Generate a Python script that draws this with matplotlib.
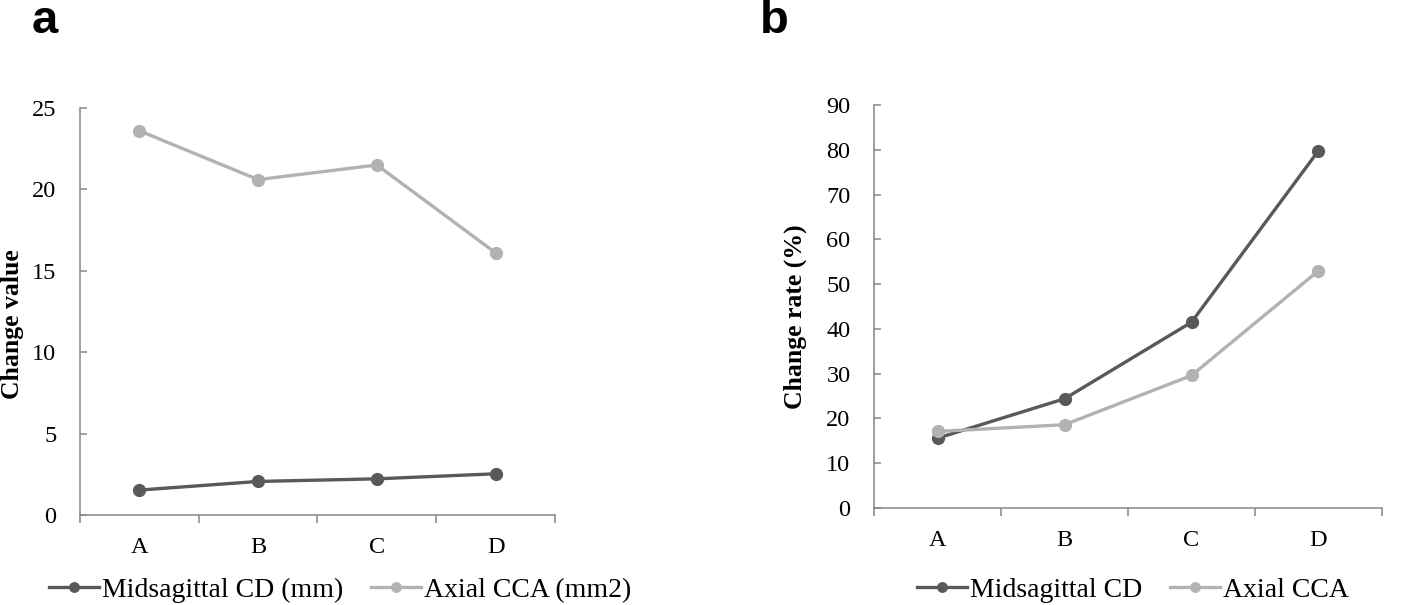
import numpy as np
import matplotlib
matplotlib.use("Agg")
import matplotlib.pyplot as plt

plt.rcParams['font.family'] = ['Liberation Serif', 'DejaVu Serif']

categories = ['A', 'B', 'C', 'D']

# panel a: change value
cd_value = [1.53, 2.06, 2.22, 2.53]
cca_value = [23.6, 20.6, 21.5, 16.1]

# panel b: change rate (%)
cd_rate = [15.6, 24.4, 41.5, 79.8]
cca_rate = [17.1, 18.6, 29.6, 53.0]

dark = '#595959'
light = '#b2b2b2'
axis_col = '#868686'

fig = plt.figure(figsize=(14.18, 6.05), dpi=100)
ax1 = fig.add_axes([0.0564, 0.1488, 0.335, 0.6727])
ax2 = fig.add_axes([0.6164, 0.1603, 0.3582, 0.6661])


def style(ax, ymax, ystep, ylabel, label_x, label_y):
    x = np.arange(1, len(categories) + 1)
    ax.set_xlim(0.5, len(categories) + 0.5)
    ax.set_ylim(0, ymax)
    ax.set_xticks(x)
    ax.set_xticklabels(categories, fontsize=17.5)
    ax.set_xticks(np.arange(0.5, len(categories) + 1, 1), minor=True)
    ax.tick_params(axis='x', which='major', length=0, pad=16)
    ax.tick_params(axis='x', which='minor', length=6, width=1.1,
                   color=axis_col, direction='out')
    ax.set_yticks(np.arange(0, ymax + 0.1, ystep))
    ax.tick_params(axis='y', length=5, width=1.1, color=axis_col,
                   direction='in', pad=17, labelsize=17.5)
    for s in ['top', 'right']:
        ax.spines[s].set_visible(False)
    for s in ['left', 'bottom']:
        ax.spines[s].set_color(axis_col)
        ax.spines[s].set_linewidth(1.1)
    ax.set_ylabel(ylabel, fontsize=18.5, fontweight='bold')
    ax.yaxis.set_label_coords(label_x, label_y)


x = np.arange(1, len(categories) + 1)

ax1.plot(x, cd_value, color=dark, lw=2.4, marker='o', ms=8.5,
         label='Midsagittal CD (mm)', clip_on=False)
ax1.plot(x, cca_value, color=light, lw=2.4, marker='o', ms=8.5,
         label='Axial CCA (mm2)', clip_on=False)
style(ax1, 25, 5, 'Change value', -0.118, 0.469)

ax2.plot(x, cd_rate, color=dark, lw=2.4, marker='o', ms=8.5,
         label='Midsagittal CD', clip_on=False)
ax2.plot(x, cca_rate, color=light, lw=2.4, marker='o', ms=8.5,
         label='Axial CCA', clip_on=False)
style(ax2, 90, 10, 'Change rate (%)', -0.132, 0.476)

for ax, cx in [(ax1, 0.2397), (ax2, 0.7990)]:
    leg = ax.legend(loc='center', bbox_to_anchor=(cx, 0.024),
                    bbox_transform=fig.transFigure, ncol=2, frameon=False,
                    fontsize=20, handlelength=1.8, handletextpad=0.1,
                    columnspacing=1.0, markerscale=0.8)

fig.text(0.0225, 0.965, 'a', fontsize=34, fontweight='bold',
         family='Liberation Sans', va='center', ha='left')
fig.text(0.536, 0.965, 'b', fontsize=34, fontweight='bold',
         family='Liberation Sans', va='center', ha='left')

fig.savefig('out.png', dpi=100)
